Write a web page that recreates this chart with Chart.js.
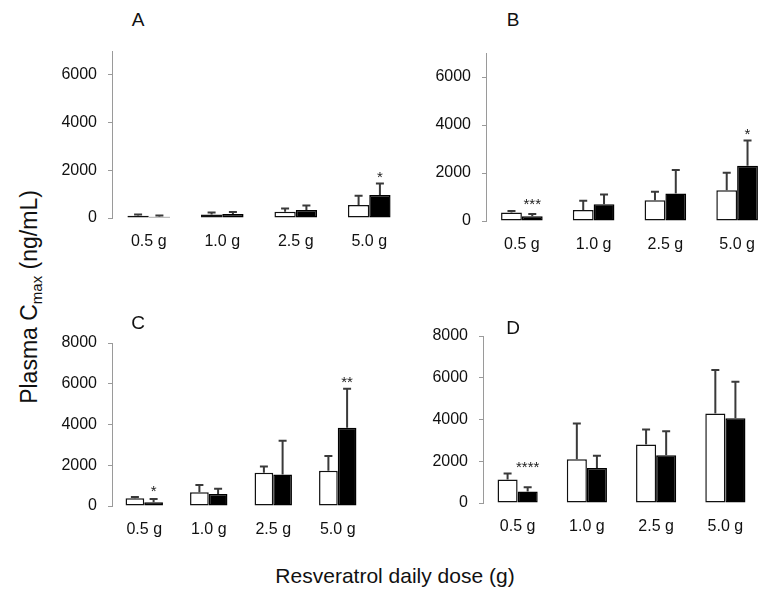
<!DOCTYPE html>
<html>
<head>
<meta charset="utf-8">
<script src="https://cdn.jsdelivr.net/npm/chart.js@4.4.0/dist/chart.umd.min.js"></script>
<style>
  html, body { margin: 0; padding: 0; background: #fff; }
  body { width: 760px; height: 591px; position: relative; overflow: hidden; font-family: "Liberation Sans", Arial, sans-serif; color: #111; }
  canvas { position: absolute; }
  .panel { position: absolute; font-size: 19px; transform: translate(-50%, -50%); }
  #ylab { position: absolute; left: 29px; top: 297px; font-size: 23px; white-space: nowrap; transform: translate(-50%, -50%) rotate(-90deg); }
  #ylab sub { font-size: 15px; vertical-align: -5px; line-height: 0; }
  #xlab { position: absolute; left: 395px; top: 576px; font-size: 21px; white-space: nowrap; transform: translate(-50%, -50%); }
</style>
</head>
<body>
<canvas id="chartA" width="356" height="219" style="left:50px;top:39px"></canvas>
<canvas id="chartB" width="349" height="220" style="left:424px;top:41px"></canvas>
<canvas id="chartC" width="320" height="215" style="left:50px;top:331px"></canvas>
<canvas id="chartD" width="339" height="219" style="left:421px;top:324px"></canvas>
<div class="panel" style="left:138px;top:20px">A</div>
<div class="panel" style="left:513px;top:20px">B</div>
<div class="panel" style="left:138px;top:323px">C</div>
<div class="panel" style="left:513px;top:328px">D</div>
<div id="ylab">Plasma C<sub>max</sub> (ng/mL)</div>
<div id="xlab">Resveratrol daily dose (g)</div>
<script>
const doses = ['0.5 g', '1.0 g', '2.5 g', '5.0 g'];
const ticksTop = [0, 2000, 4000, 6000];        // panels A and B, axis runs to 7000
const ticksBottom = [0, 2000, 4000, 6000, 8000]; // panels C and D

// panel A
const whiteA = [90, 150, 265, 540];
const whiteErrA = [60, 85, 135, 390];
const blackA = [55, 165, 335, 960];
const blackErrA = [55, 85, 190, 485];
const starsA = ['', '', '', '*'];

// panel B
const whiteB = [350, 460, 865, 1285];
const whiteErrB = [70, 380, 350, 725];
const blackB = [195, 700, 1145, 2305];
const blackErrB = [100, 405, 980, 1045];
const starsB = ['***', '', '', '*'];

// panel C
const whiteC = [375, 670, 1630, 1730];
const whiteErrC = [65, 360, 310, 720];
const blackC = [180, 590, 1550, 3840];
const blackErrC = [160, 260, 1650, 1920];
const starsC = ['*', '', '', '**'];

// panel D
const whiteD = [1120, 2100, 2800, 4290];
const whiteErrD = [290, 1710, 720, 2080];
const blackD = [545, 1680, 2290, 4060];
const blackErrD = [205, 580, 1150, 1750];
const starsD = ['****', '', '', ''];

// one-sided error bars plus significance stars
const errorBars = {
    id: 'errorBars',
    afterDatasetsDraw(chart, args, opts) {
        const ctx = chart.ctx;
        const yScale = chart.scales.y;
        const tops = [];
        ctx.save();
        ctx.strokeStyle = '#3a3a3a';
        ctx.lineWidth = 2;
        chart.data.datasets.forEach((ds, i) => {
            const meta = chart.getDatasetMeta(i);
            tops[i] = [];
            meta.data.forEach((bar, j) => {
                const top = yScale.getPixelForValue(ds.data[j] + ds.errors[j]);
                tops[i][j] = top;
                ctx.beginPath();
                ctx.moveTo(bar.x, bar.y);
                ctx.lineTo(bar.x, top);
                ctx.moveTo(bar.x - 4, top);
                ctx.lineTo(bar.x + 4, top);
                ctx.stroke();
            });
        });
        // stars over the black bar
        ctx.fillStyle = '#222';
        ctx.font = '15px "Liberation Sans", Arial, sans-serif';
        ctx.textAlign = 'center';
        ctx.textBaseline = 'alphabetic';
        const blackMeta = chart.getDatasetMeta(1);
        (opts.marks || []).forEach((m, j) => {
            if (!m) return;
            const y = Math.min(tops[0][j], tops[1][j]) - 10;
            ctx.fillText(m, blackMeta.data[j].x, y + 8.5);
        });
        ctx.restore();
    }
};

function makePanel(id, white, whiteErr, black, blackErr, stars, yMax, yTicks) {
    return new Chart(document.getElementById(id), {
        type: 'bar',
        data: {
            labels: doses,
            datasets: [
                {
                    data: white,
                    errors: whiteErr,
                    backgroundColor: '#ffffff',
                    borderColor: '#111111',
                    borderWidth: 1.5,
                    borderSkipped: false
                },
                {
                    data: black,
                    errors: blackErr,
                    backgroundColor: '#000000',
                    borderColor: '#000000',
                    borderWidth: 1.5,
                    borderSkipped: false
                }
            ]
        },
        options: {
            responsive: false,
            animation: false,
            events: [],
            layout: { padding: { top: 12, left: 0, right: 0, bottom: 0 } },
            datasets: {
                bar: { categoryPercentage: 0.58, barPercentage: 1.0 }
            },
            scales: {
                x: {
                    grid: { display: false, drawTicks: false },
                    border: { display: false },
                    ticks: {
                        color: '#111',
                        padding: 14,
                        font: { family: '"Liberation Sans", Arial, sans-serif', size: 16 }
                    },
                    afterFit: (scale) => { scale.height = 40; }
                },
                y: {
                    min: 0,
                    max: yMax,
                    grid: {
                        drawOnChartArea: false,
                        drawTicks: true,
                        tickLength: 4,
                        color: '#9a9a9a'
                    },
                    border: { display: true, color: '#9a9a9a', width: 1 },
                    ticks: {
                        color: '#111',
                        padding: 11,
                        font: { family: '"Liberation Sans", Arial, sans-serif', size: 16 },
                        callback: (v) => String(v)
                    },
                    afterBuildTicks: (scale) => {
                        scale.ticks = yTicks.map(v => ({ value: v }));
                    },
                    afterFit: (scale) => {
                        scale.width = 62;
                        scale.paddingTop = 0;
                        scale.paddingBottom = 0;
                    }
                }
            },
            plugins: {
                legend: { display: false },
                tooltip: { enabled: false },
                errorBars: { marks: stars }
            }
        },
        plugins: [errorBars]
    });
}

makePanel('chartA', whiteA, whiteErrA, blackA, blackErrA, starsA, 7000, ticksTop);
makePanel('chartB', whiteB, whiteErrB, blackB, blackErrB, starsB, 7000, ticksTop);
makePanel('chartC', whiteC, whiteErrC, blackC, blackErrC, starsC, 8000, ticksBottom);
makePanel('chartD', whiteD, whiteErrD, blackD, blackErrD, starsD, 8000, ticksBottom);
</script>
</body>
</html>
